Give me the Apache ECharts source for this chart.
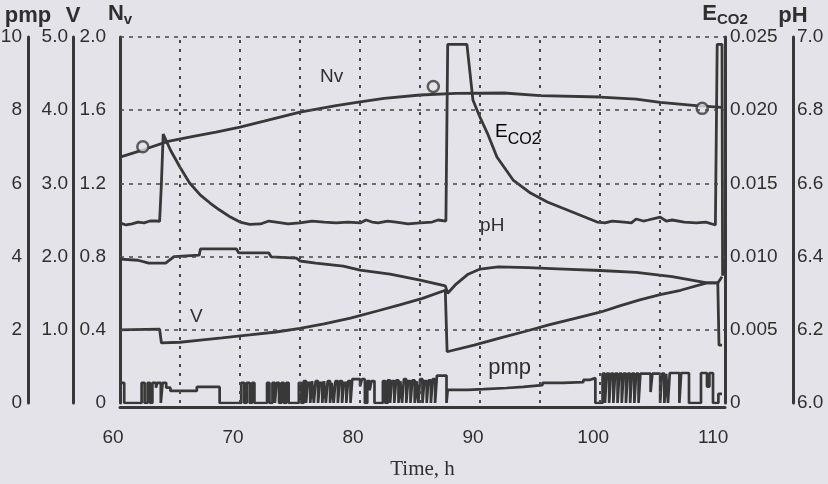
<!DOCTYPE html>
<html><head><meta charset="utf-8">
<script src="https://cdn.jsdelivr.net/npm/echarts@6/dist/echarts.min.js"></script>
<style>html,body{margin:0;padding:0;background:#e4e3ea}#c{width:828px;height:484px}</style>
</head><body><div id="c"></div><script>
// ---- data ----
const gridTimes = [65, 70, 75, 80, 85, 90, 95, 100, 105];
const nvGridLevels = [0.4, 0.8, 1.2, 1.6, 2.0];

const nvData = [[60,1.344],[62,1.385],[64,1.43],[66,1.455],[68,1.48],[70,1.508],[72,1.54],[75,1.59],[78,1.625],[80,1.645],[82,1.665],[85,1.683],[88,1.692],[92,1.694],[95,1.68],[100,1.672],[103,1.66],[105,1.643],[108,1.625],[110.1,1.615]];
const nvSamples = [[61.9,1.40],[86.1,1.73],[108.5,1.61]];

const eco2Data = [[60,0.0123],[60.5,0.01216],[61,0.01223],[61.5,0.01236],[62,0.0123],[62.5,0.01243],[63.1,0.01243],[63.3,0.0124],[63.45,0.0150],[63.6,0.01837],[63.75,0.0183],[64.2,0.01728],[65,0.0161],[65.8,0.01503],[66.7,0.0142],[67.5,0.01366],[68.3,0.01318],[69.2,0.0127],[70,0.01236],[70.8,0.0122],[71.7,0.01223],[72.4,0.01243],[73,0.01236],[74,0.01223],[75,0.0123],[76,0.01243],[77,0.01236],[78,0.0123],[79,0.01236],[80,0.0123],[80.5,0.0125],[81,0.01236],[81.5,0.0123],[82.3,0.01243],[83,0.01236],[84,0.01223],[85,0.0123],[86,0.01236],[86.5,0.0125],[87.15,0.01243],[87.3,0.0245],[88.9,0.0245],[89.4,0.0207],[90,0.0195],[90.6,0.01844],[91.4,0.0168],[92.75,0.01523],[94.2,0.01434],[95.6,0.01373],[96.9,0.0133],[98.3,0.01284],[99.75,0.01236],[100.4,0.0123],[101,0.01243],[102,0.01236],[102.6,0.0123],[103,0.01257],[103.6,0.01243],[104,0.0125],[105,0.0127],[105.5,0.01243],[106,0.0125],[107,0.01236],[108,0.0123],[108.8,0.01236],[109.6,0.01216],[109.75,0.0245],[110.15,0.0245],[110.2,0.0087]];

const phData = [[60,6.393],[61.5,6.39],[62.4,6.382],[63.8,6.382],[64.5,6.40],[66.6,6.404],[66.7,6.421],[69.7,6.421],[69.9,6.410],[72.4,6.410],[72.6,6.399],[74.7,6.396],[75.0,6.388],[76.3,6.382],[78.6,6.374],[80.0,6.363],[82.5,6.352],[85,6.336],[87.1,6.32],[87.3,6.30],[88,6.325],[89,6.352],[90,6.366],[91.5,6.372],[94,6.37],[97,6.366],[100,6.362],[103,6.357],[106,6.345],[108.9,6.328],[109.8,6.328],[110.15,6.345]];

const vData = [[60,1.0],[63.3,1.01],[63.45,0.82],[65,0.83],[66.7,0.86],[68.5,0.89],[70.8,0.93],[73,0.97],[75,1.02],[77,1.08],[79.2,1.16],[81.5,1.26],[83.3,1.34],[85.2,1.43],[87.1,1.54],[87.25,0.70],[89.5,0.79],[91.7,0.89],[93.8,0.98],[95.8,1.07],[98,1.16],[100,1.24],[101.7,1.33],[103.3,1.41],[105,1.48],[106.7,1.54],[108.9,1.64],[109.8,1.64],[109.9,0.79],[110.15,0.79]];

const pmpData = [[60.0,0.55],[60.35,0],
[61.8,0.55],[62.05,0],[62.3,0.55],[62.5,0],[62.7,0.55],[63.0,0.42],[63.1,0.55],[63.4,0],[63.55,0.55],[63.85,0.42],[64.2,0.33],[66.4,0.44],[68.3,0],
[70.1,0.55],[70.35,0],[70.55,0.55],[70.8,0],[71.0,0.55],[71.2,0],
[72.25,0.55],[72.45,0],[72.7,0.55],[72.9,0],[73.05,0.55],[73.25,0],[73.45,0.55],[73.65,0],[73.85,0.55],[74.05,0],
[74.9,0.55],[75.1,0],[75.3,0.6],[75.5,0],[75.65,0.55],[75.85,0],[76.0,0.6],[76.15,0],[76.3,0.6],[76.5,0],[76.65,0.55],[76.85,0],[77.0,0.6],[77.15,0],[77.3,0.6],[77.5,0],[77.65,0.55],[77.8,0],[77.95,0.6],[78.15,0],[78.3,0.6],[78.5,0],[78.65,0.55],[78.85,0],[79.0,0.6],[79.2,0],
[79.35,0.65],[80.0,0.45],[80.15,0.65],[80.4,0],[80.6,0.6],[80.8,0.35],[80.95,0.6],[81.2,0],
[81.9,0.6],[82.1,0],[82.3,0.62],[82.5,0],[82.65,0.6],[82.85,0],[83.0,0.62],[83.2,0],[83.35,0.6],[83.5,0],[83.65,0.65],[83.85,0],[84.0,0.6],[84.2,0],[84.35,0.62],[84.55,0],[84.7,0.6],[84.85,0],[85.0,0.65],[85.2,0],[85.35,0.6],[85.55,0],[85.7,0.62],[85.9,0],[86.05,0.65],[86.25,0],[86.4,0.75],[87.2,0],
[87.3,0.36],[89.0,0.38],[90.3,0.41],[92.2,0.44],[93.6,0.49],[95.2,0.55],[96.9,0.57],[98.6,0.63],[99.1,0.68],[99.6,0],
[100.2,0.8],[100.4,0],[100.55,0.8],[100.75,0],[100.9,0.8],[101.1,0],[101.25,0.8],[101.45,0],[101.6,0.8],[101.8,0],[101.95,0.8],[102.15,0],[102.3,0.8],[102.5,0],[102.65,0.8],[102.85,0],[103.0,0.8],[103.2,0],[103.35,0.8],
[104.2,0.3],[104.35,0.8],[105.0,0],[105.15,0.8],[105.35,0],[105.5,0.8],[105.65,0],
[105.8,0.82],[106.6,0],[106.75,0.82],[107.4,0],
[108.4,0.82],[108.9,0.45],[109.1,0.82],[109.4,0],[109.85,0.25],[110.15,0.25]];

// in-plot annotation anchors (time, Nv-axis value)
const annoLabels = ['Nv', 'E', 'pH', 'V', 'pmp'];
const annoTimes = [76.67, 91.25, 90.0, 65.83, 90.67];
const annoLevels = [1.781, 1.464, 0.967, 0.47, 0.191];

// ---- chart ----
const INK = '#2f2f2f';
const LINE = '#383838';
const SANS = '"Liberation Sans", Arial, sans-serif';
const chart = echarts.init(document.getElementById('c'), null, {renderer: 'canvas'});

const nameStyle = {color: INK, fontSize: 22, fontWeight: 'bold', fontFamily: SANS};
const subRich = {
  a: {fontSize: 22, fontWeight: 'bold', color: INK, fontFamily: SANS, lineHeight: 22, verticalAlign: 'top'},
  b: {fontSize: 15, fontWeight: 'bold', color: INK, fontFamily: SANS, padding: [9, 0, 0, 0]}
};
const tickStyle = {color: INK, fontSize: 19, fontFamily: SANS, padding: [4, 0, 0, 0]};
function yAxisBase(extra) {
  return Object.assign({
    type: 'value',
    axisLine: {show: true, onZero: false, lineStyle: {color: LINE, width: 3}},
    axisTick: {show: false},
    splitLine: {show: false},
    nameLocation: 'end',
    nameGap: 10,
    nameTextStyle: nameStyle
  }, extra);
}

const option = {
  backgroundColor: '#e4e3ea',
  animation: false,
  grid: {left: 120, right: 103, top: 37, bottom: 81, outerBoundsMode: 'none', containLabel: false},
  xAxis: {
    type: 'value', min: 60, max: 110.4, interval: 5, offset: 4,
    axisLine: {show: true, onZero: false, lineStyle: {color: LINE, width: 3}},
    axisTick: {show: false},
    splitLine: {show: false},
    axisLabel: {
      color: INK, fontSize: 19, fontFamily: SANS, margin: 21, padding: [0, 14, 0, 0],
      formatter: v => (Math.abs(v % 10) < 1e-6 ? String(v) : '')
    },
    name: 'Time, h', nameLocation: 'middle', nameGap: 52,
    nameTextStyle: {color: INK, fontSize: 21, fontFamily: '"Liberation Serif", "Times New Roman", serif'}
  },
  yAxis: [
    yAxisBase({ // 0: Nv
      position: 'left', offset: 0, min: 0, max: 2.0, interval: 0.4,
      axisLabel: {...tickStyle, margin: 14, formatter: v => (v === 0 ? '0' : v.toFixed(1))},
      name: '{a|N}{b|v}', nameTextStyle: {rich: subRich}
    }),
    yAxisBase({ // 1: V
      position: 'left', offset: 47, min: 0, max: 5.0, interval: 1,
      axisLabel: {...tickStyle, margin: 5, formatter: v => (v === 0 ? '' : v.toFixed(1))},
      name: 'V'
    }),
    yAxisBase({ // 2: pmp
      position: 'left', offset: 92, min: 0, max: 10, interval: 2,
      axisLabel: {...tickStyle, margin: 6, formatter: v => String(v)},
      name: 'pmp'
    }),
    yAxisBase({ // 3: E_CO2
      position: 'right', offset: 0, min: 0, max: 0.025, interval: 0.005,
      axisLabel: {...tickStyle, margin: 5, formatter: v => (v === 0 ? '0' : v.toFixed(3))},
      name: '{a|E}{b|CO2}', nameTextStyle: {rich: subRich}
    }),
    yAxisBase({ // 4: pH
      position: 'right', offset: 68, min: 6.0, max: 7.0, interval: 0.2,
      axisLabel: {...tickStyle, margin: 4, formatter: v => v.toFixed(1)},
      name: 'pH'
    })
  ],
  series: [
    {
      name: 'Nv', type: 'line', xAxisIndex: 0, yAxisIndex: 0, data: nvData,
      showSymbol: false, lineStyle: {color: LINE, width: 2.8}, z: 3,
      markLine: {
        silent: true, symbol: ['none', 'none'], label: {show: false}, animation: false,
        data: gridTimes.map(t => ({xAxis: t, lineStyle: {color: '#474747', width: 2, type: [3, 6]}}))
          .concat(nvGridLevels.map(v => ({yAxis: v, lineStyle: {color: '#474747', width: 1.6, type: [4, 5]}})))
      }
    },
    {
      name: 'Nv samples', type: 'scatter', xAxisIndex: 0, yAxisIndex: 0, data: nvSamples,
      symbol: 'circle', symbolSize: 11,
      itemStyle: {color: '#e4e3ea', borderColor: LINE, borderWidth: 2.5}, z: 4
    },
    {
      name: 'ECO2', type: 'line', xAxisIndex: 0, yAxisIndex: 3, data: eco2Data,
      showSymbol: false, lineStyle: {color: LINE, width: 2.8}, z: 3
    },
    {
      name: 'pH', type: 'line', xAxisIndex: 0, yAxisIndex: 4, data: phData,
      showSymbol: false, lineStyle: {color: LINE, width: 2.8}, z: 3
    },
    {
      name: 'V', type: 'line', xAxisIndex: 0, yAxisIndex: 1, data: vData,
      showSymbol: false, lineStyle: {color: LINE, width: 2.8}, z: 3
    },
    {
      name: 'pmp', type: 'line', xAxisIndex: 0, yAxisIndex: 2, data: pmpData, step: 'end',
      showSymbol: false, lineStyle: {color: LINE, width: 2.7}, z: 3
    }
  ]
};
chart.setOption(option);

// place in-plot labels through the chart's own scales
const graphics = annoLabels.map((lab, i) => {
  const p = chart.convertToPixel({seriesIndex: 0}, [annoTimes[i], annoLevels[i]]);
  if (lab === 'E') {
    return {
      type: 'text', x: p[0], y: p[1], z: 10,
      style: {
        text: '{a|E}{b|CO2}', align: 'left', verticalAlign: 'middle',
        rich: {
          a: {fontSize: 19, color: INK, fontFamily: SANS, lineHeight: 19, verticalAlign: 'top'},
          b: {fontSize: 16, color: INK, fontFamily: SANS, padding: [9, 0, 0, 0]}
        }
      }
    };
  }
  return {
    type: 'text', x: p[0], y: p[1], z: 10,
    style: {
      text: lab, align: 'left', verticalAlign: 'middle', fill: INK,
      font: (lab === 'pmp' ? '22px ' : '19px ') + SANS
    }
  };
});
chart.setOption({graphic: graphics});
</script></body></html>
